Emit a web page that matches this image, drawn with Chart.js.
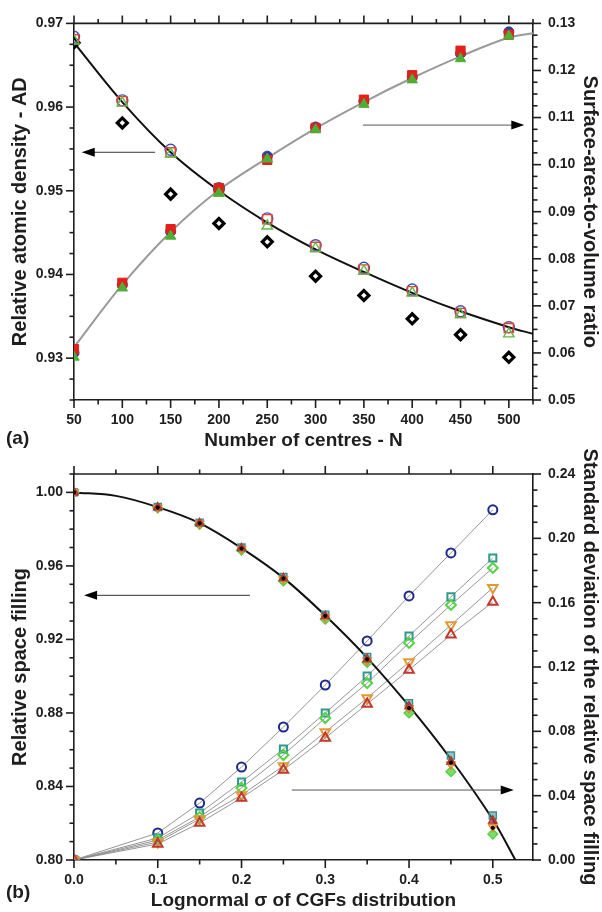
<!DOCTYPE html>
<html lang="en">
<head>
  <meta charset="UTF-8">
  <title>Atomic density and space filling</title>
  <script src="https://cdn.jsdelivr.net/npm/chart.js"></script>
  <style>
    body { margin: 0; background: #fff; }
    .panel { position: absolute; left: 0; width: 602px; }
    #panelA { top: 0; height: 452px; }
    #panelB { top: 446px; height: 466px; }
  </style>
</head>
<body>
  <div class="panel" id="panelA"><canvas id="chartA"></canvas></div>
  <div class="panel" id="panelB"><canvas id="chartB"></canvas></div>

  <script>
    // ---- panel (a): number of centres ----
    const centres = [50, 100, 150, 200, 250, 300, 350, 400, 450, 500];
    const centresFit = [50, 100, 150, 200, 250, 300, 350, 400, 450, 500, 525];
    const adCircle   = [0.9684, 0.9608, 0.9549, 0.9503, 0.9467, 0.9435, 0.9408, 0.9382, 0.9356, 0.9337];
    const adSquare   = [0.9681, 0.9607, 0.9546, 0.9502, 0.9466, 0.9433, 0.9406, 0.9380, 0.9354, 0.9336];
    const adTriangle = [0.9679, 0.9605, 0.9544, 0.9498, 0.9458, 0.9431, 0.9404, 0.9378, 0.9352, 0.9329];
    const adDiamond  = [0.9677, 0.9581, 0.9496, 0.9461, 0.9439, 0.9398, 0.9375, 0.9347, 0.9328, 0.9301];
    const adFit      = [0.9677, 0.9606, 0.9546, 0.9500, 0.9462, 0.9430, 0.9403, 0.9378, 0.9356, 0.9337, 0.9329];
    const savRed     = [0.0608, 0.0749, 0.0863, 0.0950, 0.1010, 0.1078, 0.1138, 0.1190, 0.1242, 0.1276];
    const savBlue    = [0.0600, 0.0745, 0.0858, 0.0947, 0.1018, 0.1080, 0.1135, 0.1186, 0.1236, 0.1282];
    const savGreen   = [0.0591, 0.0738, 0.0848, 0.0939, 0.1012, 0.1074, 0.1128, 0.1180, 0.1225, 0.1273];
    const savFit     = [0.0612, 0.0745, 0.0857, 0.0946, 0.1014, 0.1077, 0.1133, 0.1184, 0.1230, 0.1270, 0.1279];
    const ticksAx  = [50, 100, 150, 200, 250, 300, 350, 400, 450, 500];
    const ticksAyL = [0.93, 0.94, 0.95, 0.96, 0.97];
    const ticksAyR = [0.05, 0.06, 0.07, 0.08, 0.09, 0.10, 0.11, 0.12, 0.13];

    // ---- panel (b): lognormal sigma ----
    const sigma = [0, 0.1, 0.15, 0.2, 0.25, 0.3, 0.35, 0.4, 0.45, 0.5];
    const sigmaFit = [0, 0.05, 0.1, 0.15, 0.2, 0.25, 0.3, 0.35, 0.4, 0.45, 0.5, 0.527];
    const sdCircle  = [0, 0.0168, 0.0354, 0.0578, 0.0827, 0.1088, 0.1362, 0.1642, 0.1909, 0.2177];
    const sdSquare  = [0, 0.0137, 0.0292, 0.0485, 0.0690, 0.0914, 0.1144, 0.1393, 0.1636, 0.1878];
    const sdDiamond = [0, 0.0124, 0.0267, 0.0448, 0.0653, 0.0883, 0.1100, 0.1350, 0.1586, 0.1816];
    const sdDown    = [0, 0.0112, 0.0255, 0.0404, 0.0585, 0.0796, 0.1007, 0.1231, 0.1461, 0.1692];
    const sdUp      = [0, 0.0100, 0.0230, 0.0386, 0.0560, 0.0759, 0.0970, 0.1182, 0.1400, 0.1604];
    const rsfSquare  = [1.0, 0.9921, 0.9835, 0.9700, 0.9540, 0.9335, 0.9105, 0.8853, 0.8568, 0.8242];
    const rsfUp      = [1.0, 0.9918, 0.9832, 0.9696, 0.9533, 0.9326, 0.9092, 0.8835, 0.8535, 0.8214];
    const rsfDown    = [1.0, 0.9916, 0.9830, 0.9693, 0.9528, 0.9320, 0.9085, 0.8825, 0.8520, 0.8180];
    const rsfDiamond = [1.0, 0.9915, 0.9826, 0.9686, 0.9518, 0.9310, 0.9075, 0.8800, 0.8480, 0.8141];
    const rsfDot     = [1.0, 0.9918, 0.9832, 0.9695, 0.9532, 0.9328, 0.9092, 0.8826, 0.8530, 0.8175];
    const rsfFit     = [1.0, 0.9981, 0.9920, 0.9833, 0.9697, 0.9535, 0.9330, 0.9100, 0.8838, 0.8548, 0.8220, 0.8000];
    const ticksBx  = [0, 0.1, 0.2, 0.3, 0.4, 0.5];
    const ticksByL = [0.80, 0.84, 0.88, 0.92, 0.96, 1.00];
    const ticksByR = [0.00, 0.04, 0.08, 0.12, 0.16, 0.20, 0.24];

    const pts = (xs, ys) => xs.map((x, i) => ({ x: x, y: ys[i] }));
    const FONT = '"Liberation Sans", Arial, sans-serif';
    const INK = '#1e1e1e';

    Chart.defaults.font.family = FONT;
    Chart.defaults.color = INK;

    // outward major/minor ticks, mirrored x ticks, the top frame line, arrows and panel label
    const frameTicks = {
      id: 'frameTicks',
      afterDraw(chart, args, opts) {
        const { ctx, chartArea: a } = chart;
        ctx.save();
        ctx.strokeStyle = INK;
        ctx.lineWidth = 1.6;
        ctx.beginPath();
        ctx.moveTo(a.left - 0.8, a.top);
        ctx.lineTo(a.right + 0.8, a.top);
        ctx.stroke();
        opts.axes.forEach(ax => {
          const s = chart.scales[ax.id];
          for (let i = 0; ; i++) {
            const v = ax.start + i * ax.minor;
            if (v > s.max + 1e-9) break;
            if (v < s.min - 1e-9) continue;
            const len = i % ax.every === 0 ? 8 : 4.5;
            const p = s.getPixelForValue(v);
            ctx.beginPath();
            if (ax.id === 'x') {
              ctx.moveTo(p, a.bottom); ctx.lineTo(p, a.bottom + len);
              ctx.moveTo(p, a.top); ctx.lineTo(p, a.top - len);
            } else if (ax.id === 'yL') {
              ctx.moveTo(a.left, p); ctx.lineTo(a.left - len, p);
            } else {
              ctx.moveTo(a.right, p); ctx.lineTo(a.right + len, p);
            }
            ctx.stroke();
          }
        });
        opts.arrows.forEach(ar => {
          const y = chart.scales[ar.axis].getPixelForValue(ar.y);
          const x0 = chart.scales.x.getPixelForValue(ar.from);
          const x1 = chart.scales.x.getPixelForValue(ar.to);
          const dir = x1 > x0 ? 1 : -1;
          ctx.strokeStyle = ar.color;
          ctx.lineWidth = 1;
          ctx.beginPath();
          ctx.moveTo(x0, y); ctx.lineTo(x1 - dir * 10, y);
          ctx.stroke();
          ctx.fillStyle = '#000';
          ctx.beginPath();
          ctx.moveTo(x1, y);
          ctx.lineTo(x1 - dir * 13, y - 4.5);
          ctx.lineTo(x1 - dir * 13, y + 4.5);
          ctx.closePath();
          ctx.fill();
        });
        ctx.fillStyle = INK;
        ctx.font = 'bold 19px ' + FONT;
        ctx.textBaseline = 'middle';
        ctx.fillText(opts.label, 6, opts.labelY);
        ctx.restore();
      }
    };

    function axisX(min, max, ticks, digits, title) {
      return {
        type: 'linear', position: 'bottom', min: min, max: max,
        afterBuildTicks: s => { s.ticks = ticks.map(v => ({ value: v })); },
        afterFit: s => { s.height = 52; },
        grid: { display: false, drawTicks: false },
        border: { display: true, color: INK, width: 1.6 },
        ticks: { padding: 12, font: { size: 14, weight: 'bold' }, callback: v => v.toFixed(digits) },
        title: { display: true, text: title, font: { size: 19, weight: 'bold' }, padding: { top: 0, bottom: 0 } }
      };
    }

    function axisY(side, min, max, ticks, digits, title, width, pad, titlePad) {
      return {
        type: 'linear', position: side, min: min, max: max,
        afterBuildTicks: s => { s.ticks = ticks.map(v => ({ value: v })); },
        afterFit: s => { s.width = width; },
        grid: { display: false, drawTicks: false },
        border: { display: true, color: INK, width: 1.6 },
        ticks: { padding: pad, font: { size: 14, weight: 'bold' }, callback: v => v.toFixed(digits) },
        title: { display: true, text: title, font: { size: 20, weight: 'bold' }, padding: { top: titlePad, bottom: 0 } }
      };
    }

    function marker(xs, ys, axis, style, radius, fill, stroke, width, extra) {
      return Object.assign({
        data: pts(xs, ys), yAxisID: axis, pointStyle: style, pointRadius: radius,
        pointBackgroundColor: fill, pointBorderColor: stroke, pointBorderWidth: width,
        backgroundColor: fill, borderColor: stroke, showLine: false
      }, extra || {});
    }

    function curve(xs, ys, axis, color, width) {
      return {
        data: pts(xs, ys), yAxisID: axis, showLine: true, pointRadius: 0,
        borderColor: color, borderWidth: width, tension: 0.35
      };
    }

    function baseOptions(top) {
      return {
        responsive: true, maintainAspectRatio: false, animation: false,
        layout: { padding: { top: top, left: 0, right: 0, bottom: 0 } },
        plugins: { legend: { display: false }, tooltip: { enabled: false } }
      };
    }

    // panel (a)
    const optsA = baseOptions(15);
    optsA.scales = {
      x: axisX(50, 525, ticksAx, 0, 'Number of centres - N'),
      yL: axisY('left', 0.925, 0.97, ticksAyL, 2, 'Relative atomic density - AD', 74, 11, 8),
      yR: axisY('right', 0.05, 0.13, ticksAyR, 2, 'Surface-area-to-volume ratio', 69, 15, 0)
    };
    optsA.plugins.frameTicks = {
      axes: [
        { id: 'x', start: 50, minor: 25, every: 2 },
        { id: 'yL', start: 0.92, minor: 0.0025, every: 4 },
        { id: 'yR', start: 0.05, minor: 0.0025, every: 4 }
      ],
      arrows: [
        { axis: 'yL', y: 0.9546, from: 134, to: 58, color: '#333' },
        { axis: 'yR', y: 0.1084, from: 349, to: 516, color: '#555' }
      ],
      label: '(a)', labelY: 439
    };

    new Chart(document.getElementById('chartA'), {
      type: 'scatter',
      data: {
        datasets: [
          marker(centres, savGreen, 'yR', 'triangle', 6, '#4eae35', '#4eae35', 1),
          marker(centres, savRed, 'yR', 'rect', 6.5, '#e3201b', '#e3201b', 1),
          marker(centres, savBlue, 'yR', 'circle', 5, '#2b3fa8', '#2b3fa8', 1),
          marker(centres, adTriangle, 'yL', 'triangle', 6, 'rgba(255,255,255,0)', '#62b846', 1.4),
          marker(centres, adSquare, 'yL', 'rect', 6.5, 'rgba(255,255,255,0)', '#e5412e', 1.4),
          marker(centres, adCircle, 'yL', 'circle', 5.5, 'rgba(255,255,255,0)', '#3b4fb8', 1.4),
          marker(centres, adDiamond, 'yL', 'rectRot', 5, '#ffffff', '#000000', 3.2),
          curve(centresFit, savFit, 'yR', '#9a9a9a', 2),
          curve(centresFit, adFit, 'yL', '#111111', 2)
        ]
      },
      options: optsA,
      plugins: [frameTicks]
    });

    // panel (b)
    const optsB = baseOptions(28);
    optsB.scales = {
      x: axisX(0, 0.548, ticksBx, 1, 'Lognormal σ of CGFs distribution'),
      yL: axisY('left', 0.80, 1.01, ticksByL, 2, 'Relative space filling', 74, 11, 8),
      yR: axisY('right', 0, 0.24, ticksByR, 2, 'Standard deviation of the relative space filling', 69, 15, 0)
    };
    optsB.plugins.frameTicks = {
      axes: [
        { id: 'x', start: 0, minor: 0.05, every: 2 },
        { id: 'yL', start: 0.80, minor: 0.01, every: 4 },
        { id: 'yR', start: 0, minor: 0.01, every: 4 }
      ],
      arrows: [
        { axis: 'yL', y: 0.944, from: 0.21, to: 0.012, color: '#333' },
        { axis: 'yR', y: 0.0435, from: 0.26, to: 0.525, color: '#555' }
      ],
      label: '(b)', labelY: 447
    };

    const thin = { showLine: true, borderColor: '#8a8a8a', borderWidth: 0.9 };
    new Chart(document.getElementById('chartB'), {
      type: 'scatter',
      data: {
        datasets: [
          marker(sigma, rsfDot, 'yL', 'circle', 1.6, '#000', '#000', 1),
          marker(sigma, rsfUp, 'yL', 'triangle', 5, 'rgba(180,50,40,0.75)', '#b8332a', 1.2),
          marker(sigma, rsfDown, 'yL', 'triangle', 5, 'rgba(225,140,50,0.7)', '#e08a32', 1.2, { pointRotation: 180 }),
          marker(sigma, rsfSquare, 'yL', 'rect', 5, 'rgba(60,150,150,0.55)', '#3c8e96', 1.4),
          marker(sigma, rsfDiamond, 'yL', 'rectRot', 5, 'rgba(90,210,70,0.8)', '#4fcf3f', 1.2),
          curve(sigmaFit, rsfFit, 'yL', '#111111', 2),
          marker(sigma, sdUp, 'yR', 'triangle', 5.5, 'rgba(255,255,255,0)', '#c23a2c', 2, thin),
          marker(sigma, sdDown, 'yR', 'triangle', 5.5, 'rgba(255,255,255,0)', '#e39a36', 2, Object.assign({ pointRotation: 180 }, thin)),
          marker(sigma, sdDiamond, 'yR', 'rectRot', 5, 'rgba(255,255,255,0)', '#53d443', 2, thin),
          marker(sigma, sdSquare, 'yR', 'rect', 5, 'rgba(255,255,255,0)', '#2f9a8c', 2, thin),
          marker(sigma, sdCircle, 'yR', 'circle', 4.5, 'rgba(255,255,255,0)', '#1d2a8a', 2, thin)
        ]
      },
      options: optsB,
      plugins: [frameTicks]
    });
  </script>
</body>
</html>
